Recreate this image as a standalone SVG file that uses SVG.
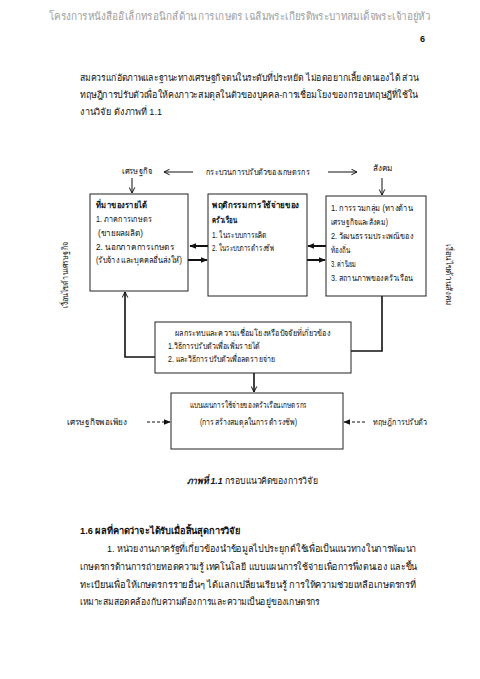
<svg xmlns="http://www.w3.org/2000/svg" width="480" height="679" viewBox="0 0 480 679">
<style>
text{font-family:"Liberation Sans","DejaVu Sans","Noto Sans",sans-serif;fill:#111}
.hd{fill:#a0a0a0;font-size:11px}
.p{font-size:9.5px}
.b{font-size:8.5px}
.bb{font-size:8.5px;font-weight:bold}
.box{fill:#fff;stroke:#222;stroke-width:1}
.ln{fill:none;stroke:#111;stroke-width:1.6}
.thin{fill:none;stroke:#111;stroke-width:1}
.thick{fill:none;stroke:#111;stroke-width:2}
.dash{fill:none;stroke:#111;stroke-width:1;stroke-dasharray:3 2}
</style>
<defs>
<marker id="vh" viewBox="0 0 10 10" refX="9" refY="5" markerWidth="7" markerHeight="7" markerUnits="userSpaceOnUse" orient="auto"><path d="M1,1 L9,5 L1,9" fill="none" stroke="#111" stroke-width="1.4"/></marker>
<marker id="fh" viewBox="0 0 10 10" refX="9" refY="5" markerWidth="7" markerHeight="7" markerUnits="userSpaceOnUse" orient="auto"><path d="M0,1 L10,5 L0,9 z" fill="#111"/></marker>
</defs>
<text class="hd" x="49" y="20" textLength="381" lengthAdjust="spacingAndGlyphs">โครงการหนังสืออิเล็กทรอนิกส์ด้านการเกษตร เฉลิมพระเกียรติพระบาทสมเด็จพระเจ้าอยู่หัว</text>
<text x="420" y="42" style="font-size:9px;font-weight:bold">6</text>
<text class="p" x="80" y="81" textLength="338" lengthAdjust="spacingAndGlyphs">สมควรแก่อัตภาพและฐานะทางเศรษฐกิจตนในระดับที่ประหยัด ไม่อดอยากเลี้ยงตนเองได้ ส่วน</text>
<text class="p" x="80" y="98" textLength="338" lengthAdjust="spacingAndGlyphs">ทฤษฎีการปรับตัวเพื่อให้คงภาวะสมดุลในตัวของบุคคล-การเชื่อมโยงของกรอบทฤษฎีที่ใช้ใน</text>
<text class="p" x="80" y="115" textLength="82" lengthAdjust="spacingAndGlyphs">งานวิจัย  ดังภาพที่ 1.1</text>

<g id="connectors">
<line class="thin" x1="193" y1="172" x2="164" y2="172" marker-end="url(#vh)"/>
<line class="thin" x1="328" y1="172" x2="357" y2="172" marker-end="url(#vh)"/>
<line class="thin" x1="132" y1="178" x2="132" y2="193" marker-end="url(#vh)"/>
<line class="thin" x1="382" y1="178" x2="382" y2="195" marker-end="url(#vh)"/>
<line class="thick" x1="208" y1="246" x2="190" y2="246" marker-end="url(#fh)"/>
<line class="thick" x1="188" y1="260" x2="207" y2="260" marker-end="url(#fh)"/>
<line class="thick" x1="326" y1="246" x2="308" y2="246" marker-end="url(#fh)"/>
<line class="thick" x1="307" y1="260" x2="325" y2="260" marker-end="url(#fh)"/>
<polyline class="ln" points="155,357 125,357 125,292" marker-end="url(#vh)"/>
<polyline class="ln" points="382,296 382,351 351,351"/>
<line class="ln" x1="254" y1="373" x2="254" y2="392" marker-end="url(#vh)"/>
<line class="dash" x1="147" y1="422" x2="170" y2="422" marker-end="url(#fh)"/>
<line class="dash" x1="365" y1="422" x2="344" y2="422" marker-end="url(#fh)"/>
</g>

<g id="label-economy"><text class="b" x="122" y="174" textLength="30" lengthAdjust="spacingAndGlyphs">เศรษฐกิจ</text></g>
<g id="label-process"><text class="b" x="206" y="175" textLength="104" lengthAdjust="spacingAndGlyphs">กระบวนการปรับตัวของเกษตรกร</text></g>
<g id="label-society"><text class="b" x="373" y="171" textLength="20" lengthAdjust="spacingAndGlyphs">สังคม</text></g>

<g id="box-income">
<rect class="box" x="90" y="194" width="98" height="97"/>
<text class="bb" x="96" y="208" textLength="51" lengthAdjust="spacingAndGlyphs">ที่มาของรายได้</text>
<text class="b" x="96" y="222" textLength="56" lengthAdjust="spacingAndGlyphs">1. ภาคการเกษตร</text>
<text class="b" x="98" y="236" textLength="45" lengthAdjust="spacingAndGlyphs">(ขายผลผลิต)</text>
<text class="b" x="96" y="250" textLength="79" lengthAdjust="spacingAndGlyphs">2. นอกภาคการเกษตร</text>
<text class="b" x="96" y="263" textLength="86" lengthAdjust="spacingAndGlyphs">(รับจ้าง และบุคคลอื่นส่งให้)</text>
</g>
<g id="box-behavior">
<rect class="box" x="208" y="194" width="99" height="102"/>
<text class="bb" x="212" y="208" textLength="87" lengthAdjust="spacingAndGlyphs">พฤติกรรมการใช้จ่ายของ</text>
<text class="bb" x="212" y="223" textLength="25" lengthAdjust="spacingAndGlyphs">ครัวเรือน</text>
<text class="b" x="212" y="238" textLength="55" lengthAdjust="spacingAndGlyphs">1. ในระบบการผลิต</text>
<text class="b" x="212" y="251" textLength="62" lengthAdjust="spacingAndGlyphs">2. ในระบบการดำรงชีพ</text>
</g>
<g id="box-social">
<rect class="box" x="326" y="196" width="100" height="100"/>
<text class="b" x="331" y="211" textLength="82" lengthAdjust="spacingAndGlyphs">1. การรวมกลุ่ม (ทางด้าน</text>
<text class="b" x="331" y="225" textLength="57" lengthAdjust="spacingAndGlyphs">เศรษฐกิจและสังคม)</text>
<text class="b" x="331" y="239" textLength="82" lengthAdjust="spacingAndGlyphs">2. วัฒนธรรมประเพณีของ</text>
<text class="b" x="331" y="253" textLength="19" lengthAdjust="spacingAndGlyphs">ท้องถิ่น</text>
<text class="b" x="331" y="267" textLength="25" lengthAdjust="spacingAndGlyphs">3. ค่านิยม</text>
<text class="b" x="331" y="281" textLength="82" lengthAdjust="spacingAndGlyphs">3. สถานภาพของครัวเรือน</text>
</g>
<g id="label-econ-cond"><text class="b" x="-33" y="0" textLength="66" lengthAdjust="spacingAndGlyphs" transform="translate(68,275) rotate(-90)">เงื่อนไขด้านเศรษฐกิจ</text></g>
<g id="label-social-cond"><text class="b" x="-31" y="0" textLength="62" lengthAdjust="spacingAndGlyphs" transform="translate(446,275) rotate(90)">เงื่อนไขด้านสังคม</text></g>

<g id="box-impact">
<rect class="box" x="155" y="322" width="196" height="51"/>
<text class="b" x="175" y="336" textLength="155" lengthAdjust="spacingAndGlyphs">ผลกระทบและความเชื่อมโยงหรือปัจจัยที่เกี่ยวข้อง</text>
<text class="b" x="168" y="349" textLength="92" lengthAdjust="spacingAndGlyphs">1.วิธีการปรับตัวเพื่อเพิ่มรายได้</text>
<text class="b" x="168" y="362" textLength="107" lengthAdjust="spacingAndGlyphs">2. และวิธีการปรับตัวเพื่อลดรายจ่าย</text>
</g>
<g id="box-pattern">
<rect class="box" x="171" y="393" width="172" height="56"/>
<text class="b" x="190" y="408" textLength="117" lengthAdjust="spacingAndGlyphs">แบบแผนการใช้จ่ายของครัวเรือนเกษตรกร</text>
<text class="b" x="200" y="425" textLength="97" lengthAdjust="spacingAndGlyphs">(การสร้างสมดุลในการดำรงชีพ)</text>
</g>
<g id="label-sufficiency"><text class="b" x="67" y="425" textLength="60" lengthAdjust="spacingAndGlyphs">เศรษฐกิจพอเพียง</text></g>
<g id="label-theory"><text class="b" x="373" y="425" textLength="54" lengthAdjust="spacingAndGlyphs">ทฤษฎีการปรับตัว</text></g>

<text x="187" y="484" style="font-size:9.5px" textLength="131" lengthAdjust="spacingAndGlyphs"><tspan font-weight="bold" font-style="italic">ภาพที่ 1.1</tspan> กรอบแนวคิดของการวิจัย</text>

<text x="80" y="534" style="font-size:9.5px;font-weight:bold" textLength="161" lengthAdjust="spacingAndGlyphs">1.6 ผลที่คาดว่าจะได้รับเมื่อสิ้นสุดการวิจัย</text>
<text class="p" x="107" y="552" textLength="309" lengthAdjust="spacingAndGlyphs">1. หน่วยงานภาครัฐที่เกี่ยวข้องนำข้อมูลไปประยุกต์ใช้เพื่อเป็นแนวทางในการพัฒนา</text>
<text class="p" x="80" y="570" textLength="337" lengthAdjust="spacingAndGlyphs">เกษตรกรด้านการถ่ายทอดความรู้ เทคโนโลยี แบบแผนการใช้จ่ายเพื่อการพึ่งตนเอง และขึ้น</text>
<text class="p" x="80" y="588" textLength="336" lengthAdjust="spacingAndGlyphs">ทะเบียนเพื่อให้เกษตรกรรายอื่นๆ ได้แลกเปลี่ยนเรียนรู้ การให้ความช่วยเหลือเกษตรกรที่</text>
<text class="p" x="80" y="605" textLength="240" lengthAdjust="spacingAndGlyphs">เหมาะสมสอดคล้องกับความต้องการและความเป็นอยู่ของเกษตรกร</text>
</svg>
